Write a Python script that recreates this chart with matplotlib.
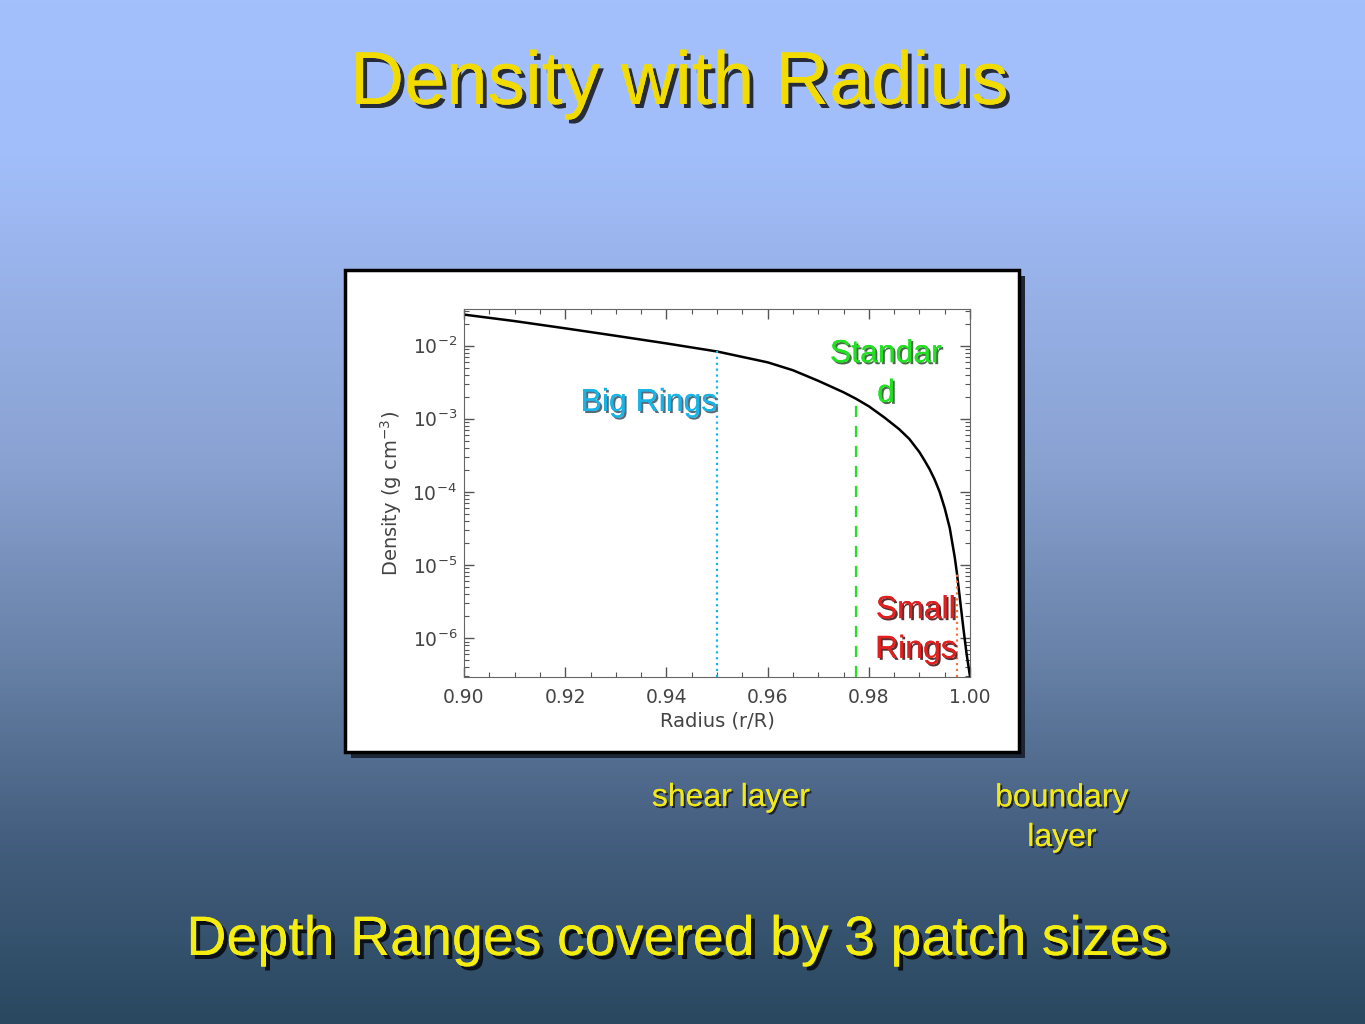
import numpy as np
import matplotlib
matplotlib.use("Agg")
import matplotlib.pyplot as plt
import matplotlib.patheffects as pe
from matplotlib.colors import LinearSegmentedColormap
from matplotlib.patches import Rectangle
from matplotlib.ticker import MultipleLocator, LogLocator

# density profile
radius = [0.900, 0.910, 0.920, 0.930, 0.940, 0.950, 0.960, 0.965, 0.970, 0.975,
          0.9775, 0.980, 0.983, 0.986, 0.988, 0.990, 0.991, 0.992, 0.993,
          0.994, 0.995, 0.996, 0.997, 0.9974, 0.998, 0.9987, 0.9993, 1.000]
density = [2.65e-2, 2.16e-2, 1.72e-2, 1.36e-2, 1.07e-2, 8.3e-3, 5.9e-3, 4.6e-3,
           3.3e-3, 2.3e-3, 1.87e-3, 1.48e-3, 1.05e-3, 7.2e-4, 5.3e-4, 3.5e-4,
           2.7e-4, 2.05e-4, 1.48e-4, 1.0e-4, 6.0e-5, 3.2e-5, 1.26e-5, 7.9e-6,
           3.5e-6, 1.35e-6, 6.3e-7, 3.0e-7]

# patch depth markers
patch_radius = [0.950, 0.9774, 0.9974]
patch_top = [8.3e-3, 1.9e-3, 7.9e-6]
patch_colors = ["#19b4e6", "#22e022", "#f07840"]
patch_styles = [":", (0, (5, 4)), ":"]

x_ticks = [0.90, 0.92, 0.94, 0.96, 0.98, 1.00]
y_lim = (2.95e-7, 3.16e-2)

W, H = 1365, 1024
fig = plt.figure(figsize=(W / 100, H / 100), dpi=100)

# background gradient
bg = fig.add_axes([0, 0, 1, 1], zorder=-10)
cmap = LinearSegmentedColormap.from_list(
    "bg", [(0.0, "#a4c0fc"), (0.15, "#a2befa"), (0.45, "#8aa2d2"),
           (0.65, "#6680a6"), (0.82, "#435e7e"), (1.0, "#2a4860")])
bg.imshow(np.linspace(0, 1, 256).reshape(-1, 1), aspect="auto", cmap=cmap,
          extent=[0, 1, 0, 1])
bg.set_axis_off()


def px(x, y):
    return x / W, 1 - y / H


def shadow_text(x, y, s, color, size, off=4, shade="#262c3a", **kw):
    d = off * 0.72
    fx = [pe.withSimplePatchShadow(offset=(d, -d), shadow_rgbFace=shade, alpha=1.0),
          pe.Normal()]
    tx, ty = px(x, y)
    fig.text(tx, ty, s, color=color, fontsize=size, family="Liberation Sans",
             path_effects=fx, **kw)


# white panel with shadow
x0, y0 = px(345, 752)
pw, ph = 674 / W, 482 / H
fig.add_artist(Rectangle((x0 + 6 / W, y0 - 6 / H), pw, ph, transform=fig.transFigure,
                         facecolor="#1c2636", edgecolor="none", zorder=0))
fig.add_artist(Rectangle((x0, y0), pw, ph, transform=fig.transFigure,
                         facecolor="white", edgecolor="black", linewidth=2.5, zorder=1))

ax = fig.add_axes([464 / W, 1 - 677 / H, 506 / W, 368 / H], zorder=2)
ax.semilogy(radius, density, color="black", lw=1.8)
for r, top, c, ls in zip(patch_radius, patch_top, patch_colors, patch_styles):
    ax.vlines(r, y_lim[0], top, colors=c, linestyles=[ls], lw=1.6)

ax.set_xlim(0.90, 1.00)
ax.set_ylim(*y_lim)
ax.set_xticks(x_ticks)
ax.set_xticklabels(["%.2f" % v for v in x_ticks])
ax.xaxis.set_minor_locator(MultipleLocator(0.005))
ax.yaxis.set_major_locator(LogLocator(base=10, numticks=10))
ax.yaxis.set_minor_locator(LogLocator(base=10, subs=np.arange(2, 10), numticks=20))
ax.tick_params(which="both", direction="in", top=True, right=True, colors="#555555",
               labelcolor="#444444", labelsize=13.5)
ax.tick_params(which="major", length=7, width=1)
ax.tick_params(which="minor", length=3.5, width=0.8)
ax.tick_params(axis="x", pad=8)
ax.tick_params(axis="y", pad=5)
for sp in ax.spines.values():
    sp.set_color("#666666")
ax.set_xlabel("Radius (r/R)", fontsize=14, color="#444444", labelpad=3)
ax.set_ylabel("Density (g cm$^{-3}$)", fontsize=14, color="#444444", labelpad=6)

# labels inside the plot
shadow_text(649, 403, "Big Rings", patch_colors[0], 23, off=2, shade="#5a6a78",
            ha="center", va="center", zorder=5)
shadow_text(886, 374, "Standar\nd", patch_colors[1], 23, off=2, shade="#4a6a4a",
            ha="center", va="center", linespacing=1.42, zorder=5)
shadow_text(916, 630, "Small\nRings", "#e02020", 23, off=2, shade="#5a3030",
            ha="center", va="center", linespacing=1.42, zorder=5)

# slide texts
shadow_text(679, 104, "Density with Radius", "#f2dc00", 54, ha="center", va="baseline")
shadow_text(731, 806, "shear layer", "#f0e818", 23, off=2, shade="#1c2230",
            ha="center", va="baseline")
shadow_text(1062, 846, "boundary\nlayer", "#f0e818", 23, off=2, shade="#1c2230",
            ha="center", va="baseline", linespacing=1.42)
shadow_text(677, 955, "Depth Ranges covered by 3 patch sizes", "#f5ec10", 40,
            off=4, shade="#0c1018", ha="center", va="baseline")

fig.savefig("out.png", dpi=100)
